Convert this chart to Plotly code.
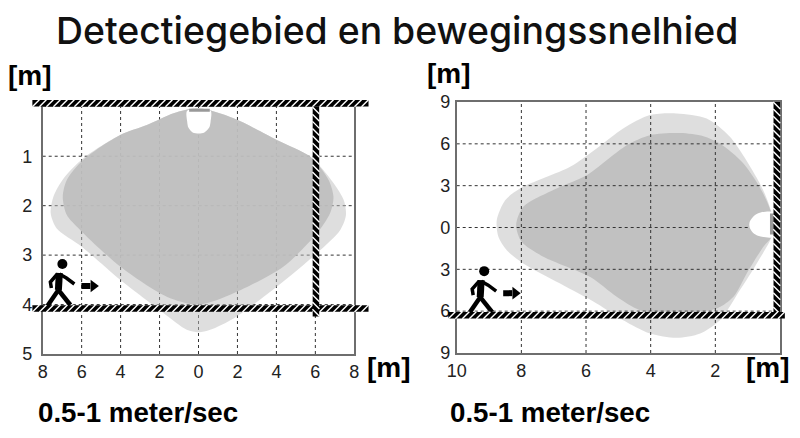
import plotly.graph_objects as go

W, H = 800, 438
OFF = 8  # the page body adds this margin around the plot

# left chart, metres
left_xticks = [-8, -6, -4, -2, 0, 2, 4, 6, 8]
left_xlabels = ['8', '6', '4', '2', '0', '2', '4', '6', '8']
left_yticks = [1, 2, 3, 4, 5]
left_ylabels = ['1', '2', '3', '4', '5']

left_light_x = [0, 1.8, 4.02, 5.74, 6.68, 7.45, 7.57, 7.28, 6.08, 4.02, 1.8, 0.6, 0, -0.6, -1.8,
                -4.02, -5.99, -7.28, -7.59, -7.45, -6.93, -5.91, -4.02, -2.65, -1.28, 0]
left_light_y = [0.03, 0.23, 0.67, 1.01, 1.41, 1.88, 2.19, 2.49, 2.96, 3.64, 4.28, 4.51, 4.56, 4.51, 4.17,
                3.5, 2.83, 2.46, 2.15, 1.82, 1.45, 1.04, 0.57, 0.37, 0.13, 0.03]
left_dark_x = [0, 1.8, 4.02, 5.74, 6.68, 6.93, 6.76, 6.08, 4.37, 1.8, 0, -1.63, -4.02, -6.08,
               -6.76, -6.97, -6.76, -5.91, -4.02, -2.65, -1.28, 0]
left_dark_y = [0.03, 0.23, 0.67, 1.01, 1.48, 1.82, 2.15, 2.56, 3.23, 3.77, 4.0, 3.84, 3.23, 2.49,
               2.19, 1.82, 1.48, 1.07, 0.57, 0.37, 0.13, 0.03]
left_notch_x = [-0.58, 0.62, 0.62, 0.55, 0.3, 0.02, -0.3, -0.52, -0.58, -0.58]
left_notch_y = [0.08, 0.08, 0.3, 0.42, 0.52, 0.54, 0.52, 0.42, 0.3, 0.08]
left_sensor_x = [-0.48, 0.58, 0.58, -0.48, -0.48]
left_sensor_y = [0.04, 0.04, 0.1, 0.1, 0.04]

# start and end of each wall
left_walls = [
    ((-8.53, -0.07), (8.73, -0.07), 'line-ne'),
    ((-8.53, 4.08), (8.73, 4.08), 'line-ne'),
    ((6.03, 0), (6.03, 4.24), 'line-nw'),
]

# right chart, metres
right_xticks = [10, 8, 6, 4, 2]
right_xlabels = ['10', '8', '6', '4', '2']
right_yticks = [9, 6, 3, 0, -3, -6, -9]
right_ylabels = ['9', '6', '3', '0', '3', '6', '9']

right_light_x = [0.21, 0.52, 1.55, 2.27, 3.2, 4.02, 4.85, 5.67, 6.49, 8.04, 8.5, 8.76, 8.71, 8.45, 7.94,
                 6.8, 5.67, 4.85, 4.02, 3.2, 2.47, 1.86, 1.24, 0.72, 0.26, 0.21]
right_light_y = [0.53, 2.68, 6.5, 7.82, 8.18, 8.06, 7.1, 5.67, 4.35, 2.8, 1.96, 0.53, -0.67, -1.63, -2.58,
                 -4.02, -5.45, -6.65, -7.6, -7.91, -7.6, -6.65, -4.49, -2.58, -0.67, 0.53]
right_dark_x = [0.21, 0.52, 1.13, 1.86, 2.37, 3.09, 4.02, 4.74, 5.98, 6.91, 7.94, 8.16, 7.99, 7.32, 5.88,
                5.05, 4.33, 3.4, 1.96, 1.44, 1.03, 0.52, 0.26, 0.21]
right_dark_y = [0.53, 2.44, 4.59, 6.02, 6.55, 6.77, 6.62, 5.9, 3.75, 2.8, 1.48, 0.17, -1.03, -2.1, -3.54,
                -4.97, -5.93, -6.17, -5.81, -4.97, -3.3, -1.39, -0.67, 0.53]
right_notch_x = [0.2, 0.6, 0.8, 0.93, 0.95, 0.93, 0.8, 0.6, 0.2, 0.2]
right_notch_y = [1.08, 1.08, 0.85, 0.45, 0.2, -0.05, -0.45, -0.65, -0.67, 1.08]
right_sensor_x = [0.17, 0.31, 0.31, 0.17, 0.17]
right_sensor_y = [1.0, 1.0, -0.5, -0.5, 1.0]

right_walls = [
    ((0.1, 9), (0.1, -6.2), 'line-nw'),
    ((10.26, -6.29), (-0.15, -6.29), 'line-ne'),
]

# walking figure, pixels relative to the head
person_head = [(0, 0)]
person_torso = [(-3, 9), (-4, 26)]
person_front_arm = [(-3, 10), (4, 14), (12, 20)]
person_back_arm = [(-5, 10), (-12, 18), (-11, 24)]
person_front_leg = [(-4, 26), (2, 33), (8, 41)]
person_back_leg = [(-4, 26), (-9, 34), (-15, 42)]
arrow_shaft = [(19, 22), (28, 22)]
arrow_tip = [(31, 22)]

LIGHT = 'rgba(190,190,190,0.5)'
DARK = 'rgba(190,190,190,0.9)'
GRID = '#333333'
FRAME = '#6e6e6e'

left_box = (42.7, 354.3, 106.8, 354)
right_box = (456.7, 780, 102, 353)
left_range = ([-8, 8], [5, 0])
right_range = ([10, 0], [-9, 9])
WALL_PAD = (20, 15)  # walls stick out of the frame, so they get a larger hidden subplot


def dom(box):
    return [(box[0] - OFF) / W, (box[1] - OFF) / W], [1 - (box[3] - OFF) / H, 1 - (box[2] - OFF) / H]


def area(x, y, color, xa, ya):
    return go.Scatter(x=x, y=y, fill='toself', fillcolor=color, mode='lines',
                      line=dict(color='rgba(0,0,0,0)', width=0, shape='spline', smoothing=0.8),
                      xaxis=xa, yaxis=ya, hoverinfo='skip')


def grid(xs, ys, xr, yr, xa, ya):
    gx, gy = [], []
    for v in xs:
        gx += [v, v, None]
        gy += [yr[0], yr[1], None]
    for v in ys:
        gx += [xr[0], xr[1], None]
        gy += [v, v, None]
    return go.Scatter(x=gx, y=gy, mode='lines', line=dict(color=GRID, width=1, dash='3px,3px'),
                      xaxis=xa, yaxis=ya, hoverinfo='skip')


def scales(box, rng):
    sx = (rng[0][1] - rng[0][0]) / (box[1] - box[0])
    sy = (rng[1][0] - rng[1][1]) / (box[3] - box[2])
    return sx, sy


def wall_axes(box, rng):
    sx, sy = scales(box, rng)
    pad_x, pad_y = WALL_PAD
    bx = (box[0] - pad_x, box[1] + pad_x, box[2] - pad_y, box[3] + pad_y)
    rx = [rng[0][0] - pad_x * sx, rng[0][1] + pad_x * sx]
    ry = [rng[1][0] + pad_y * sy, rng[1][1] - pad_y * sy]
    return bx, rx, ry


def wall(w, box, rng, xa, ya):
    # black bar with thin white slanted stripes every 7 px
    (x0, y0), (x1, y1), symbol = w
    sx, sy = scales(box, rng)
    length = (((x1 - x0) / sx) ** 2 + ((y1 - y0) / sy) ** 2) ** 0.5
    n = int(length / 7)
    hx = [x0 + (x1 - x0) * (i + 0.5) / n for i in range(n)]
    hy = [y0 + (y1 - y0) * (i + 0.5) / n for i in range(n)]
    return [
        go.Scatter(x=[x0, x1], y=[y0, y1], mode='lines', line=dict(color='black', width=6.5),
                   xaxis=xa, yaxis=ya, hoverinfo='skip'),
        go.Scatter(x=hx, y=hy, mode='markers',
                   marker=dict(symbol=symbol, size=7, line=dict(color='white', width=1.4)),
                   xaxis=xa, yaxis=ya, hoverinfo='skip'),
    ]


def person(hx, hy, box, rng, xa, ya):
    sx, sy = scales(box, rng)
    out = []

    def conv(pts):
        return [hx + p[0] * sx for p in pts], [hy + p[1] * sy for p in pts]

    for pts, w in [(person_torso, 7), (person_front_arm, 3.5), (person_back_arm, 3.5),
                   (person_front_leg, 4.5), (person_back_leg, 4.5), (arrow_shaft, 6)]:
        px, py = conv(pts)
        out.append(go.Scatter(x=px, y=py, mode='lines', line=dict(color='black', width=w),
                              xaxis=xa, yaxis=ya, hoverinfo='skip', cliponaxis=False))
    px, py = conv(person_head)
    out.append(go.Scatter(x=px, y=py, mode='markers', marker=dict(color='black', size=10),
                          xaxis=xa, yaxis=ya, hoverinfo='skip'))
    px, py = conv(arrow_tip)
    out.append(go.Scatter(x=px, y=py, mode='markers',
                          marker=dict(color='black', size=11, symbol='triangle-right'),
                          xaxis=xa, yaxis=ya, hoverinfo='skip'))
    return out


traces = [
    grid(left_xticks[1:-1], left_yticks[:-1], [-8, 8], [5, 0], 'x', 'y'),
    area(left_light_x, left_light_y, LIGHT, 'x', 'y'),
    area(left_dark_x, left_dark_y, DARK, 'x', 'y'),
    area(left_notch_x, left_notch_y, 'white', 'x', 'y'),
    go.Scatter(x=left_sensor_x, y=left_sensor_y, fill='toself', fillcolor='#999999', mode='none',
               xaxis='x', yaxis='y', hoverinfo='skip'),
]
traces += person(-6.99, 3.18, left_box, left_range, 'x', 'y')
for w in left_walls:
    traces += wall(w, left_box, left_range, 'x3', 'y3')

traces += [
    area(right_light_x, right_light_y, LIGHT, 'x2', 'y2'),
    area(right_dark_x, right_dark_y, DARK, 'x2', 'y2'),
    grid(right_xticks[1:], right_yticks[1:-1], [10, 0.2], [-9, 9], 'x2', 'y2'),
    area(right_notch_x, right_notch_y, 'white', 'x2', 'y2'),
    go.Scatter(x=right_sensor_x, y=right_sensor_y, fill='toself', fillcolor='#999999', mode='none',
               xaxis='x2', yaxis='y2', hoverinfo='skip'),
]
traces += person(9.15, -3.13, right_box, right_range, 'x2', 'y2')
for w in right_walls:
    traces += wall(w, right_box, right_range, 'x4', 'y4')

tick_font = dict(family='Liberation Sans', size=18, color='#222222')
lx, ly = dom(left_box)
rx, ry = dom(right_box)
left_wbox, left_wx, left_wy = wall_axes(left_box, left_range)
right_wbox, right_wx, right_wy = wall_axes(right_box, right_range)
lwx, lwy = dom(left_wbox)
rwx, rwy = dom(right_wbox)


def axis(domain, rng, vals, text, anchor, ticklen):
    return dict(domain=domain, range=rng, tickmode='array', tickvals=vals, ticktext=text,
                showgrid=False, zeroline=False, showline=True, mirror=True, linecolor=FRAME, linewidth=1.5,
                ticks='outside', ticklen=ticklen, tickcolor='white', tickfont=tick_font, anchor=anchor)


def hidden_axis(domain, rng, anchor):
    return dict(domain=domain, range=rng, visible=False, anchor=anchor)


def label(text, x, y, size, family='Liberation Sans', bold=True, color='black', xanchor='left', weight=None):
    font = dict(family=family, size=size, color=color)
    if weight:
        font['weight'] = weight
    return dict(text='<b>%s</b>' % text if bold else text, x=(x - OFF) / W, y=1 - (y - OFF) / H,
                xref='paper', yref='paper', xanchor=xanchor, yanchor='middle', showarrow=False, font=font)


layout = go.Layout(
    width=W, height=H, showlegend=False, paper_bgcolor='white', plot_bgcolor='rgba(0,0,0,0)',
    margin=dict(l=0, r=0, t=0, b=0, pad=0, autoexpand=False),
    xaxis=axis(lx, left_range[0], left_xticks, left_xlabels, 'y', 1),
    yaxis=axis(ly, left_range[1], left_yticks, left_ylabels, 'x', 5),
    xaxis2=axis(rx, right_range[0], right_xticks, right_xlabels, 'y2', 1),
    yaxis2=axis(ry, right_range[1], right_yticks, right_ylabels, 'x2', 1),
    xaxis3=hidden_axis(lwx, left_wx, 'y3'),
    yaxis3=hidden_axis(lwy, left_wy, 'x3'),
    xaxis4=hidden_axis(rwx, right_wx, 'y4'),
    yaxis4=hidden_axis(rwy, right_wy, 'x4'),
    annotations=[
        label('Detectiegebied en bewegingssnelhied', 397, 30, 37.4, 'Inter', False, '#111111', 'center', 500),
        label('[m]', 6, 75, 28),
        label('[m]', 365, 367, 28),
        label('[m]', 425, 74, 28),
        label('[m]', 744, 367, 28),
        label('0.5-1 meter/sec', 36, 412, 27.7),
        label('0.5-1 meter/sec', 448, 412, 27.7),
    ],
)

fig = go.Figure(data=traces, layout=layout)
fig.write_html("out.html")
